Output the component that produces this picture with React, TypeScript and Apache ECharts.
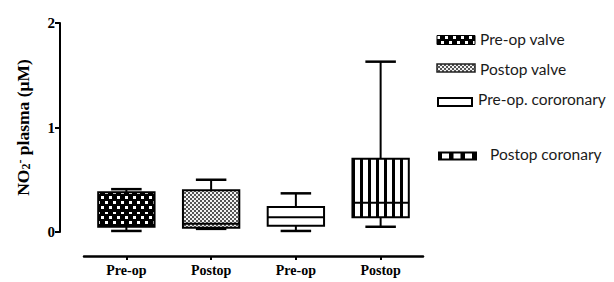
import React, { useEffect, useRef } from "react";
import * as echarts from "echarts";

const categories = ["Pre-op", "Postop", "Pre-op", "Postop"];
const groupNames = ["Pre-op valve", "Postop valve", "Pre-op. cororonary", "Postop coronary"];
const mins = [0.01, 0.03, 0.01, 0.05];
const q1s = [0.05, 0.04, 0.06, 0.14];
const medians = [0.2, 0.08, 0.14, 0.28];
const q3s = [0.38, 0.4, 0.24, 0.7];
const maxs = [0.41, 0.5, 0.37, 1.63];
const yMin = 0;
const yMax = 2;
const yInterval = 1;

function makeCanvas(w: number, h: number, draw: (ctx: CanvasRenderingContext2D) => void) {
  const c = document.createElement("canvas");
  c.width = w;
  c.height = h;
  const ctx = c.getContext("2d")!;
  draw(ctx);
  return c;
}

export default function App() {
  const ref = useRef<HTMLDivElement>(null);
  useEffect(() => {
    if (!ref.current) return;
    const chart = echarts.init(ref.current, null, { renderer: "svg" });

    const dotsCanvas = makeCanvas(8, 10, (ctx) => {
      ctx.fillStyle = "#000";
      ctx.fillRect(0, 0, 8, 10);
      ctx.fillStyle = "#fff";
      ctx.fillRect(1, 1, 3, 3);
      ctx.fillRect(5, 6, 3, 3);
    });
    const fineCanvas = makeCanvas(4, 4, (ctx) => {
      ctx.fillStyle = "#f2f2f2";
      ctx.fillRect(0, 0, 4, 4);
      ctx.fillStyle = "#555";
      ctx.fillRect(0, 0, 2, 2);
      ctx.fillRect(2, 2, 2, 2);
    });
    const stripeCanvas = makeCanvas(8, 4, (ctx) => {
      ctx.fillStyle = "#fff";
      ctx.fillRect(0, 0, 8, 4);
      ctx.fillStyle = "#000";
      ctx.fillRect(0, 0, 3, 4);
    });
    const fills: any[] = [
      { image: dotsCanvas, repeat: "repeat" },
      { image: fineCanvas, repeat: "repeat" },
      "#fff",
      { image: stripeCanvas, repeat: "repeat" },
    ];

    const data = categories.map((_, i) => [i, mins[i], q1s[i], medians[i], q3s[i], maxs[i]]);

    const legendY = [40, 68, 102, 156];
    const legendTextX = [480, 480, 478, 490];
    const legendTextY = [39, 69, 99, 154];
    const legendGraphics: any[] = [];
    legendGraphics.push({ type: "rect", shape: { x: 437, y: legendY[0] - 4.5, width: 38, height: 9 }, style: { fill: { image: dotsCanvas, repeat: "repeat" } as any, stroke: "#000", lineWidth: 1 } });
    legendGraphics.push({ type: "rect", shape: { x: 437, y: legendY[1] - 4, width: 38, height: 8 }, style: { fill: { image: fineCanvas, repeat: "repeat" } as any, stroke: "#222", lineWidth: 1.5 } });
    legendGraphics.push({ type: "rect", shape: { x: 438, y: legendY[2] - 4, width: 34, height: 8 }, style: { fill: "#fff", stroke: "#000", lineWidth: 2 } });
    legendGraphics.push({ type: "rect", shape: { x: 438, y: legendY[3] - 4.5, width: 39, height: 9 }, style: { fill: "#000" } });
    [0, 1, 2].forEach((k) => {
      legendGraphics.push({ type: "rect", shape: { x: 442 + k * 11.5, y: legendY[3] - 2.5, width: 7, height: 5 }, style: { fill: "#fff" } });
    });
    groupNames.forEach((n, i) => {
      legendGraphics.push({
        type: "text",
        x: legendTextX[i],
        y: legendTextY[i],
        style: { text: n, fill: "#1a1a1a", font: "15.5px Lato", textVerticalAlign: "middle", textAlign: "left" },
      });
    });

    chart.setOption({
      animation: false,
      grid: { left: 84, right: 191, top: 23, bottom: 50 },
      xAxis: {
        type: "category",
        data: categories,
        offset: 24,
        boundaryGap: true,
        axisLine: { show: true, onZero: false, lineStyle: { color: "#000", width: 2.5 } },
        axisTick: { show: true, alignWithLabel: true, length: 4, lineStyle: { color: "#000", width: 2 } },
        axisLabel: { color: "#000", fontFamily: "Liberation Serif", fontWeight: "bold", fontSize: 14, margin: 7 },
        splitLine: { show: false },
      },
      yAxis: {
        type: "value",
        min: yMin,
        max: yMax,
        interval: yInterval,
        offset: 24,
        name: "{a|NO}{sub|2}{sup|-}{a| plasma (μM)}",
        nameLocation: "middle",
        nameGap: 28,
        nameRotate: 90,
        nameTextStyle: {
          rich: {
            a: { fontFamily: "Liberation Serif", fontWeight: "bold", fontSize: 17.5, color: "#000" },
            sub: { fontFamily: "Liberation Serif", fontWeight: "bold", fontSize: 12, color: "#000", verticalAlign: "bottom" },
            sup: { fontFamily: "Liberation Serif", fontWeight: "bold", fontSize: 12, color: "#000", verticalAlign: "top" },
          },
        },
        axisLine: { show: true, onZero: false, lineStyle: { color: "#000", width: 2 } },
        axisTick: { show: true, length: 5, lineStyle: { color: "#000", width: 2 } },
        axisLabel: { color: "#000", fontFamily: "Liberation Serif", fontWeight: "bold", fontSize: 15, margin: 5 },
        splitLine: { show: false },
      },
      graphic: legendGraphics,
      series: [
        {
          type: "custom",
          data,
          encode: { x: 0, y: [1, 2, 3, 4, 5] },
          renderItem: (params: any, api: any) => {
            const i = params.dataIndex;
            const x = api.value(0);
            const pMin = api.coord([x, api.value(1)]);
            const pQ1 = api.coord([x, api.value(2)]);
            const pMed = api.coord([x, api.value(3)]);
            const pQ3 = api.coord([x, api.value(4)]);
            const pMax = api.coord([x, api.value(5)]);
            const band = api.size([1, 0])[0];
            const bw = band * 0.665;
            const cw = band * 0.36;
            const cx = pMin[0];
            const line = (x1: number, y1: number, x2: number, y2: number, w = 2) => ({
              type: "line",
              shape: { x1, y1, x2, y2 },
              style: { stroke: "#000", lineWidth: w },
            });
            return {
              type: "group",
              children: [
                line(cx, pQ3[1], cx, pMax[1]),
                line(cx, pMin[1], cx, pQ1[1]),
                line(cx - cw / 2, pMax[1], cx + cw / 2, pMax[1], 2.5),
                line(cx - cw / 2, pMin[1], cx + cw / 2, pMin[1], 2.5),
                {
                  type: "rect",
                  shape: { x: cx - bw / 2, y: pQ3[1], width: bw, height: pQ1[1] - pQ3[1] },
                  style: { fill: fills[i], stroke: "#000", lineWidth: 2 },
                },
                line(cx - bw / 2, pMed[1], cx + bw / 2, pMed[1], 2),
              ],
            };
          },
        },
      ],
    });
    return () => chart.dispose();
  }, []);
  return <div ref={ref} style={{ position: "fixed", left: 0, top: 0, width: 614, height: 282, background: "#fff" }} />;
}
